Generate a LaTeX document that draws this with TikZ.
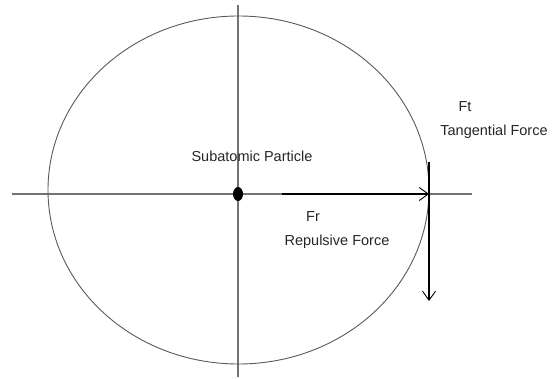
\documentclass[tikz,border=0pt]{standalone}
\usepackage{fontspec}
\setmainfont{Liberation Sans}
\usetikzlibrary{arrows.meta,positioning,calc,shapes.geometric}

\begin{document}
\begin{tikzpicture}[x=1pt,y=-1pt,
  axis/.style={draw=black!55, line width=1.4pt},
  force/.style={line width=2.4pt, -{Straight Barb[length=9pt,width=13pt,line width=0.9pt]}},
  lbl/.style={font=\fontsize{14.5}{17}\selectfont, text=black!85, inner sep=0pt}]
  \useasboundingbox (0,0) rectangle (559,379);
  % axes and orbit
  \draw[axis] (12,194) -- (472,194);
  \draw[axis] (238,5) -- (238,377);
  \draw[line width=0.9pt, draw=black!65] (238.5,190) ellipse [x radius=190.5, y radius=174];
  \node[fill=black, ellipse, minimum width=10pt, minimum height=14pt, inner sep=0pt] (dot) at (238,194) {};
  % force arrows
  \coordinate (rstart) at (282,194);
  \coordinate (rim) at (429,194);
  \coordinate (ttop) at (429,162);
  \coordinate (tend) at (429,301);
  \draw[force] (rstart) -- (rim);
  \draw[force] (ttop) -- (tend);
  % labels
  \node[lbl] (sub) at (252,156) {Subatomic Particle};
  \node[lbl] (fr) at (313,217) {Fr};
  \node[lbl] (rep) at (337,242) {Repulsive Force};
  \node[lbl] (ft) at (465,107) {Ft};
  \node[lbl] (tan) at (494,132) {Tangential Force};
\end{tikzpicture}
\end{document}
